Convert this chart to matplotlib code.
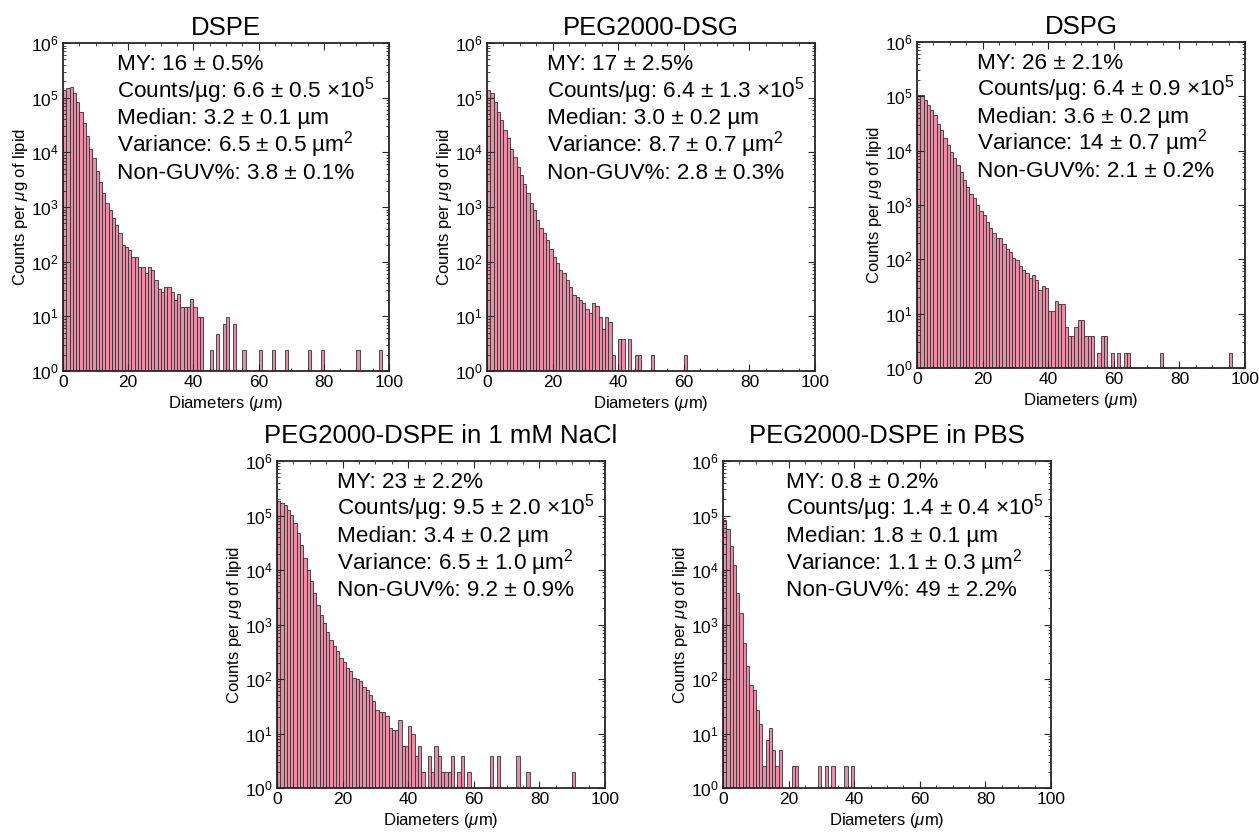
import numpy as np
import matplotlib
matplotlib.use('Agg')
import matplotlib.pyplot as plt
from matplotlib.ticker import MultipleLocator, LogLocator, NullFormatter

plt.rcParams['font.family'] = ['Liberation Sans', 'DejaVu Sans']
plt.rcParams['mathtext.fontset'] = 'custom'
plt.rcParams['mathtext.rm'] = 'Liberation Sans'
plt.rcParams['mathtext.it'] = 'Liberation Sans:italic'
plt.rcParams['mathtext.bf'] = 'Liberation Sans:bold'

# counts per ug of lipid, 1 um bins starting at 0; body = contiguous bins from 0, tail = sparse bins
dspe_body = [138000, 148000, 158000, 120000, 85000, 55000, 34000, 19500, 11700, 7760,
             4470, 2880, 1780, 1170, 890, 620, 470, 331, 200, 186,
             162, 123, 123, 81, 81, 62, 81, 71, 46, 32,
             28, 35, 35, 28, 20, 26, 15, 15, 15, 21,
             15, 9.8, 9.8]
dspe_tail_bins = [45, 47, 49, 50, 52, 55, 60, 64, 68, 75, 79, 90, 97]
dspe_tail_vals = [2.4, 4.8, 7.2, 9.6, 7.2, 2.4, 2.4, 2.4, 2.4, 2.4, 2.4, 2.4, 2.4]

dsg_body = [138000, 120000, 85000, 55000, 39000, 25700, 18200, 11700, 8300, 5500,
            3890, 2690, 1780, 1170, 890, 575, 407, 331, 251, 174,
            123, 93, 71, 62, 46, 35, 24.5, 23, 20, 17.4,
            13.65, 11.7, 17.55, 15.6, 9.75, 5.85, 9.75, 7.8, 1.95]
dsg_tail_bins = [40, 41, 43, 45, 46, 50, 60]
dsg_tail_vals = [3.9, 3.9, 3.9, 1.95, 1.95, 1.95, 1.95]

dspg_body = [105000, 105000, 85000, 69000, 56000, 46000, 31600, 24000, 17000, 12600,
             9550, 7240, 5500, 4070, 2880, 2190, 1620, 1320, 1000, 760,
             660, 490, 372, 302, 245, 245, 195, 158, 138, 105,
             98, 74, 63, 55, 45, 51, 42, 27.5, 32, 30,
             11.4, 11.4, 17.1, 15.2, 15.2, 5.7, 3.8, 3.8, 5.7, 7.6,
             7.6, 3.8, 3.8, 3.8]
dspg_tail_bins = [55, 56, 57, 59, 61, 63, 64, 74, 95]
dspg_tail_vals = [1.9, 3.8, 3.8, 1.9, 1.9, 1.9, 1.9, 1.9, 1.9]

nacl_body = [182000, 170000, 158000, 126000, 102000, 72000, 48000, 29000, 16600, 10000,
             6170, 3800, 2290, 1510, 1070, 740, 525, 400, 324, 245,
             209, 158, 138, 105, 98, 91, 72, 63, 50, 40,
             27, 25, 25, 20.5, 12.7, 11.7, 11.7, 17.5, 5.85, 5.85,
             13.65, 9.75, 3.9, 5.85, 1.95, 0, 3.9, 1.95, 5.85, 3.9,
             1.95, 1.95, 1.95, 3.9, 0, 1.95, 3.9, 0, 1.95]
nacl_tail_bins = [65, 67, 73, 76, 90]
nacl_tail_vals = [3.9, 3.9, 3.9, 1.95, 1.95]

pbs_body = [83000, 57500, 28000, 12300, 3720, 1620, 457, 170, 78, 63,
            27.5, 15, 2.5, 7.5, 12.5, 5, 2.5, 5]
pbs_tail_bins = [21, 22, 29, 31, 33, 37, 39]
pbs_tail_vals = [2.5, 2.5, 2.5, 2.5, 2.5, 2.5, 2.5]

titles = ['DSPE', 'PEG2000-DSG', 'DSPG', 'PEG2000-DSPE in 1 mM NaCl', 'PEG2000-DSPE in PBS']

stats = [
    ['MY: 16 ± 0.5%', 'Counts/µg: 6.6 ± 0.5 ×10$^{5}$', 'Median: 3.2 ± 0.1 µm',
     'Variance: 6.5 ± 0.5 µm$^{2}$', 'Non-GUV%: 3.8 ± 0.1%'],
    ['MY: 17 ± 2.5%', 'Counts/µg: 6.4 ± 1.3 ×10$^{5}$', 'Median: 3.0 ± 0.2 µm',
     'Variance: 8.7 ± 0.7 µm$^{2}$', 'Non-GUV%: 2.8 ± 0.3%'],
    ['MY: 26 ± 2.1%', 'Counts/µg: 6.4 ± 0.9 ×10$^{5}$', 'Median: 3.6 ± 0.2 µm',
     'Variance: 14 ± 0.7 µm$^{2}$', 'Non-GUV%: 2.1 ± 0.2%'],
    ['MY: 23 ± 2.2%', 'Counts/µg: 9.5 ± 2.0 ×10$^{5}$', 'Median: 3.4 ± 0.2 µm',
     'Variance: 6.5 ± 1.0 µm$^{2}$', 'Non-GUV%: 9.2 ± 0.9%'],
    ['MY: 0.8 ± 0.2%', 'Counts/µg: 1.4 ± 0.4 ×10$^{5}$', 'Median: 1.8 ± 0.1 µm',
     'Variance: 1.1 ± 0.3 µm$^{2}$', 'Non-GUV%: 49 ± 2.2%'],
]

bodies = [dspe_body, dsg_body, dspg_body, nacl_body, pbs_body]
tail_bins = [dspe_tail_bins, dsg_tail_bins, dspg_tail_bins, nacl_tail_bins, pbs_tail_bins]
tail_vals = [dspe_tail_vals, dsg_tail_vals, dspg_tail_vals, nacl_tail_vals, pbs_tail_vals]

W, H = 1259, 833
# axes boxes in pixels: left, top, right, bottom
boxes = [(63, 43, 389, 371), (487, 43, 815, 371), (917, 42, 1245, 368),
         (277, 461, 605, 788), (723, 461, 1051, 788)]
text_x = [0.165, 0.182, 0.182, 0.184, 0.192]
title_pad = [5.5, 5.5, 5.5, 13, 13]

face = '#EB8CA6'
edge = '#333333'

fig = plt.figure(figsize=(W / 100, H / 100), dpi=100)

for i in range(5):
    l, t, r, b = boxes[i]
    ax = fig.add_axes([l / W, 1 - b / H, (r - l) / W, (b - t) / H])

    heights = np.zeros(100)
    heights[:len(bodies[i])] = bodies[i]
    heights[tail_bins[i]] = tail_vals[i]
    edges = np.arange(100)
    keep = heights > 0
    ax.bar(edges[keep], heights[keep], width=1.0, align='edge', bottom=0.01,
           color=face, edgecolor=edge, linewidth=0.6)

    ax.set_yscale('log')
    ax.set_ylim(1, 1e6)
    ax.set_xlim(0, 100)
    ax.xaxis.set_major_locator(MultipleLocator(20))
    ax.xaxis.set_minor_locator(MultipleLocator(5))
    ax.yaxis.set_major_locator(LogLocator(base=10, numticks=10))
    ax.yaxis.set_minor_locator(LogLocator(base=10, subs=np.arange(2, 10), numticks=20))
    ax.yaxis.set_minor_formatter(NullFormatter())
    ax.tick_params(which='both', direction='in', top=True, right=True,
                   colors='#262626', labelcolor='black', labelsize=12.5, pad=3)
    ax.tick_params(which='major', length=5, width=0.8)
    ax.tick_params(which='minor', length=2.5, width=0.6)
    for s in ax.spines.values():
        s.set_linewidth(1.3)
        s.set_color('#262626')

    ax.set_xlabel('Diameters ($\\mu$m)', fontsize=12, labelpad=3)
    ax.set_ylabel('Counts per $\\mu$g of lipid', fontsize=12, labelpad=1)
    ax.set_title(titles[i], fontsize=18.5, pad=title_pad[i])

    for k, line in enumerate(stats[i]):
        ax.text(text_x[i], 0.918 - 0.083 * k, line, transform=ax.transAxes,
                fontsize=16.2, va='baseline', ha='left')

fig.savefig('out.png', dpi=100)
